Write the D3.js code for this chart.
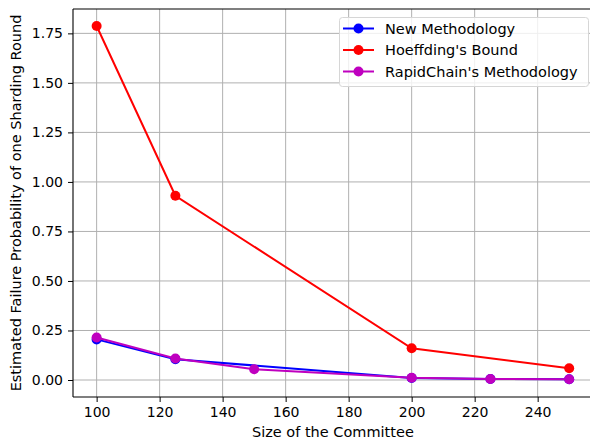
<!DOCTYPE html>
<html><head><meta charset="utf-8">
<script src="https://cdn.jsdelivr.net/npm/d3@7"></script>
<style>
body{margin:0;background:#fff;}
text{font-family:"DejaVu Sans",sans-serif;}
</style></head>
<body><svg id="c" width="590" height="442"></svg>
<script>
const xTicks = [100,120,140,160,180,200,220,240];
const yTicks = [0,0.25,0.5,0.75,1.0,1.25,1.5,1.75];
const newX = [100,125,200,225,250];
const newY = [0.205,0.105,0.010,0.005,0.004];
const hoefX = [100,125,200,250];
const hoefY = [1.787,0.930,0.160,0.059];
const rapidX = [100,125,150,200,225,250];
const rapidY = [0.215,0.109,0.054,0.011,0.005,0.004];
const seriesNames = ["New Methodology","Hoeffding's Bound","RapidChain's Methodology"];
const colors = ["#0000ff","#ff0000","#bf00bf"];

const svg = d3.select("#c");
const L=73, R=592.8, T=9, B=397;
const x = d3.scaleLinear().domain([92.5,257.5]).range([L,R]);
const y = d3.scaleLinear().domain([-0.0858,1.873]).range([B,T]);

// grid
const g = svg.append("g");
g.selectAll(".gx").data(xTicks).enter().append("line")
 .attr("x1",d=>x(d)).attr("x2",d=>x(d)).attr("y1",T).attr("y2",B)
 .attr("stroke","#b0b0b0").attr("stroke-width",1);
g.selectAll(".gy").data(yTicks).enter().append("line")
 .attr("x1",L).attr("x2",R).attr("y1",d=>y(d)).attr("y2",d=>y(d))
 .attr("stroke","#b0b0b0").attr("stroke-width",1);

// series
const data = [
 newX.map((v,i)=>[v,newY[i]]),
 hoefX.map((v,i)=>[v,hoefY[i]]),
 rapidX.map((v,i)=>[v,rapidY[i]])
];
const line = d3.line().x(d=>x(d[0])).y(d=>y(d[1]));
data.forEach((s,k)=>{
  const sg = svg.append("g");
  sg.append("path").attr("d",line(s)).attr("fill","none")
    .attr("stroke",colors[k]).attr("stroke-width",2);
  sg.selectAll("circle").data(s).enter().append("circle")
    .attr("cx",d=>x(d[0])).attr("cy",d=>y(d[1])).attr("r",5)
    .attr("fill",colors[k]);
});

// axes
const xa = svg.append("g").attr("transform",`translate(0,${B})`)
 .call(d3.axisBottom(x).tickValues(xTicks).tickSize(5).tickPadding(5).tickFormat(d3.format("d")));
const ya = svg.append("g").attr("transform",`translate(${L},0)`)
 .call(d3.axisLeft(y).tickValues(yTicks).tickSize(5).tickPadding(5).tickFormat(d3.format(".2f")));
[xa,ya].forEach(a=>{
  a.select(".domain").remove();
  a.selectAll("text").attr("font-size",14).attr("fill","#000").attr("font-family","DejaVu Sans");
  a.selectAll("line").attr("stroke","#000");
});
// spines
svg.append("line").attr("x1",L).attr("x2",L).attr("y1",T).attr("y2",B).attr("stroke","#000").attr("stroke-width",1.1);
svg.append("line").attr("x1",L).attr("x2",R).attr("y1",B).attr("y2",B).attr("stroke","#000").attr("stroke-width",1.1);
svg.append("line").attr("x1",L).attr("x2",R).attr("y1",T).attr("y2",T).attr("stroke","#000").attr("stroke-width",1.1);

// labels
svg.append("text").attr("x",(L+R)/2).attr("y",437).attr("text-anchor","middle")
 .attr("font-size",14.5).text("Size of the Committee");
svg.append("text").attr("transform",`translate(20.5,${(T+B)/2}) rotate(-90)`).attr("text-anchor","middle")
 .attr("font-size",14.5).text("Estimated Failure Probability of one Sharding Round");

// legend
const lg = svg.append("g");
lg.append("rect").attr("x",339.5).attr("y",17.5).attr("width",249).attr("height",69)
 .attr("rx",3).attr("fill","#fff").attr("fill-opacity",0.8).attr("stroke","#d6d6d6");
seriesNames.forEach((n,i)=>{
  const yy = 28.5 + i*21.5;
  lg.append("line").attr("x1",343).attr("x2",374).attr("y1",yy).attr("y2",yy)
    .attr("stroke",colors[i]).attr("stroke-width",2);
  lg.append("circle").attr("cx",358.5).attr("cy",yy).attr("r",5).attr("fill",colors[i]);
  lg.append("text").attr("x",385).attr("y",yy+5).attr("font-size",14.5).text(n);
});
</script></body></html>
